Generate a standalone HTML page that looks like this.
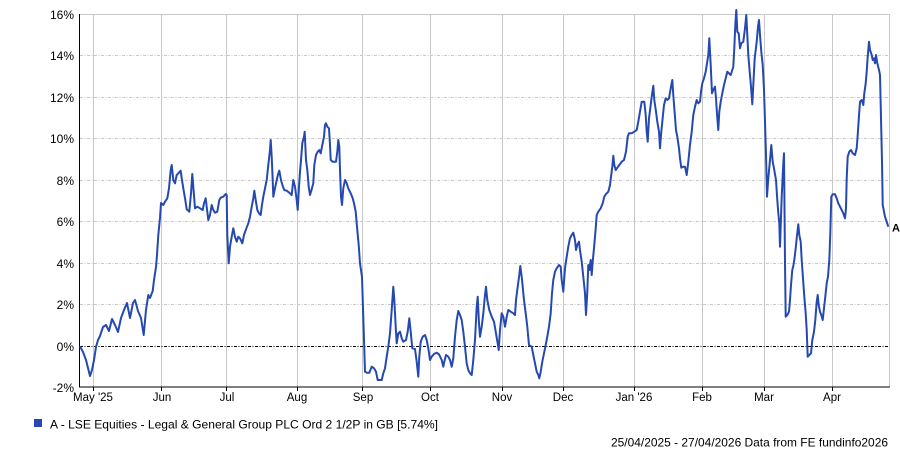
<!DOCTYPE html>
<html><head><meta charset="utf-8"><style>
html,body{margin:0;padding:0;background:#fff;}
svg{display:block;}
text{font-family:"Liberation Sans",Arial,sans-serif;fill:#000;}
</style></head><body>
<svg width="900" height="450" viewBox="0 0 900 450" xmlns="http://www.w3.org/2000/svg">
<rect width="900" height="450" fill="#fff"/>
<g stroke="#c8c8c8" stroke-width="1">
<line x1="93.5" y1="14" x2="93.5" y2="387"/>
<line x1="161.5" y1="14" x2="161.5" y2="387"/>
<line x1="226.5" y1="14" x2="226.5" y2="387"/>
<line x1="297.5" y1="14" x2="297.5" y2="387"/>
<line x1="362.5" y1="14" x2="362.5" y2="387"/>
<line x1="430.5" y1="14" x2="430.5" y2="387"/>
<line x1="502.5" y1="14" x2="502.5" y2="387"/>
<line x1="563.5" y1="14" x2="563.5" y2="387"/>
<line x1="634.5" y1="14" x2="634.5" y2="387"/>
<line x1="702.5" y1="14" x2="702.5" y2="387"/>
<line x1="764.5" y1="14" x2="764.5" y2="387"/>
<line x1="832.5" y1="14" x2="832.5" y2="387"/>
<line x1="80" y1="14.5" x2="889.5" y2="14.5"/>
<line x1="889.5" y1="14" x2="889.5" y2="387"/>
</g>
<g stroke="#c8c8c8" stroke-width="1" stroke-dasharray="3,1.5,1,1.5">
<line x1="80" y1="55.5" x2="889" y2="55.5"/>
<line x1="80" y1="97.5" x2="889" y2="97.5"/>
<line x1="80" y1="138.5" x2="889" y2="138.5"/>
<line x1="80" y1="180.5" x2="889" y2="180.5"/>
<line x1="80" y1="221.5" x2="889" y2="221.5"/>
<line x1="80" y1="263.5" x2="889" y2="263.5"/>
<line x1="80" y1="304.5" x2="889" y2="304.5"/>
</g>
<line x1="80" y1="346.5" x2="889" y2="346.5" stroke="#000" stroke-width="1" stroke-dasharray="3,1.5,1,1.5"/>
<g stroke="#000" stroke-width="1">
<line x1="79.5" y1="14" x2="79.5" y2="387.5"/>
<line x1="79" y1="387" x2="890" y2="387"/>
<line x1="93.5" y1="387" x2="93.5" y2="391"/>
<line x1="161.5" y1="387" x2="161.5" y2="391"/>
<line x1="226.5" y1="387" x2="226.5" y2="391"/>
<line x1="297.5" y1="387" x2="297.5" y2="391"/>
<line x1="362.5" y1="387" x2="362.5" y2="391"/>
<line x1="430.5" y1="387" x2="430.5" y2="391"/>
<line x1="502.5" y1="387" x2="502.5" y2="391"/>
<line x1="563.5" y1="387" x2="563.5" y2="391"/>
<line x1="634.5" y1="387" x2="634.5" y2="391"/>
<line x1="702.5" y1="387" x2="702.5" y2="391"/>
<line x1="764.5" y1="387" x2="764.5" y2="391"/>
<line x1="832.5" y1="387" x2="832.5" y2="391"/>
</g>
<g font-size="12" text-anchor="end">
<text x="74" y="19">16%</text>
<text x="74" y="60">14%</text>
<text x="74" y="102">12%</text>
<text x="74" y="143">10%</text>
<text x="74" y="185">8%</text>
<text x="74" y="226">6%</text>
<text x="74" y="268">4%</text>
<text x="74" y="309">2%</text>
<text x="74" y="351">0%</text>
<text x="74" y="392">-2%</text>
</g>
<g font-size="11.5" text-anchor="middle">
<text x="93" y="401">May '25</text>
<text x="162" y="401">Jun</text>
<text x="227" y="401">Jul</text>
<text x="297" y="401">Aug</text>
<text x="363" y="401">Sep</text>
<text x="430" y="401">Oct</text>
<text x="502" y="401">Nov</text>
<text x="563" y="401">Dec</text>
<text x="634" y="401">Jan '26</text>
<text x="702" y="401">Feb</text>
<text x="764" y="401">Mar</text>
<text x="832" y="401">Apr</text>
</g>
<polyline fill="none" stroke="#2549b1" stroke-width="2" stroke-linejoin="round" points="
80,346.3 83,352 86,360 88,368 90,376 92,370 94,360 96,347 98,340 100,336 103,327 106,325 109,331 112,319 115,325 118,332 121,318 124,310 127,303 130,318 133,303 135,300 138,311 141,318 143.7,335 146,310 148.3,295 150,298 152.7,291 154,280 156,267 157,255 158.3,235 160,218 161,203 163.3,205 165,201.7 167.3,198.3 169,188.3 170.7,170 171.7,165 173.3,180 175,183.3 176.7,175 178.3,173.3 180.7,170.7 181.7,178.3 183.3,188.3 185.3,200 186.7,209.3 189.3,211.7 191,193.3 192.3,174 193.3,186.7 195,208.3 197.3,206.7 200,208.3 202.7,210 204,203.3 205.7,198.3 206.7,206.7 208.3,220 210,215 211.7,205 213.3,210 215,212.7 217.3,211.7 219.3,200 220.7,197.7 223.3,196.7 225.7,194 226.7,195 227.3,235 228.7,263.3 230,246.7 231.7,236.7 233.3,228.3 235,236.7 236.7,241.7 238.3,236.7 240,238.3 242.3,243.3 244,235 246,229.3 248.3,223.3 250,216.7 251.7,206.7 253.3,198.3 254.3,190.7 255.7,200 257.3,210 259,213.3 260.7,215 261.7,206.7 263.3,196.7 265,188.3 266.7,180 268.3,165 270,150 270.7,140 271.7,156.7 272.7,180 273.3,196.7 275,188.3 276.7,180 278.3,173.3 279.3,170.7 281,180 282.7,186 284.3,190 286.7,190.7 289.3,192.7 291.7,195 293.3,180 295,186.7 296.7,200 297.7,210 299,186.7 300,171.7 301,160 302.3,143.3 304,136.7 304.7,131.7 306,160 307.3,170 308.7,186.7 310,195 311.7,189.3 313.3,183.3 314.3,165 316,155 317.7,151.7 319.3,150 320.7,153.3 322.3,145 324,136.7 325,125 326,123.3 327.3,126.7 329,128.3 330,145 330.7,160 332.7,161.7 336,161.7 337.3,151.7 338.3,140 339.3,146.7 340,170 341,196.7 342,205 343.3,188.3 345,180 346.7,183.3 348.3,188.3 350.7,193.3 352.7,198.3 354,203.3 355.7,211.7 357.3,230 358.7,245 360,263.3 361,270 362,277 363,308 364,340 365,371.7 366.7,372.7 369.3,372.7 371.7,366.7 374,368.3 376,371.7 377.7,380 381.7,380 383.3,373.3 385,368.3 386.7,356.7 388.3,346.7 390,333.3 391.7,310 393.3,286.7 394.3,300 395.7,326.7 396.7,343.3 398.3,333.3 400,331.7 401.7,338.3 403.3,341.7 406,340 407.7,331.7 409.3,318.3 410.7,331.7 412.3,348.3 415,349 416.7,361.7 418.3,376.7 419.3,356.7 420.7,341.7 422.7,336.7 425,335 426.7,340 428.3,348.3 430,360 431.7,356.7 434,354 436.7,352.7 439,354.3 441.7,360 443.3,366.7 444.3,361.7 446,355 448.3,356.7 450,360 451.7,366.7 453.3,358.3 455,336.7 456.7,320 458.3,311 460,315 461.7,320 463.3,331.7 465,346.7 466.7,363.3 468.3,370 470,373.3 471.7,375 473.3,360 475,340 476.7,306.7 477.7,296.7 479,323.3 480,336.7 481.7,326.7 483.3,313.3 485,295 486,286.7 487.3,300 489.3,310 491.7,316.7 494,321.7 495.7,331.7 497.7,343.3 498.7,350 500,330 501.7,313.3 503.3,316.7 505,326.7 506.7,316.7 508.3,310 510.7,311.7 513.3,313.3 515,315 516,300 517.7,286.7 519.3,275 520.3,266 521.7,276.7 522.7,286.7 524,300 525.7,313.3 527.3,326.7 529,345 531.7,346.7 533.3,355 535,363.3 536.7,371.7 538.3,375 539.3,378.3 540.7,371.7 542.3,361.7 544,353.3 545.7,345 547.3,336.7 549,326.7 550.7,313.3 552,293.3 553.3,280 555,271.7 556.7,268.3 559,265 560.7,266.7 561.7,280 563.3,291.7 565,268.3 566.7,256.7 568.3,246.7 570,238.3 571.7,235 573.3,232.7 575,240 576,250 577.3,245 579,241.7 580,250 581.7,261.7 583.3,276.7 585,293.3 586,315 587.3,291.7 588.3,265 589.3,270 590.7,260 591.7,275 592.7,261.7 594.3,245 595.7,228.3 596.7,215 598.3,211.7 600.7,208.3 602.7,203.3 604.3,196.7 606,194 608.3,191.7 610,185 611,176.7 612.3,166.7 613.3,155.7 614.3,165 615.7,170 617.3,167.7 619.3,165 621.7,161.7 624,160 626,151.7 627.7,136.7 629,133.3 631.7,133.3 634.3,131.7 636.7,130 638.3,121.7 640,111.7 641.7,101.7 644.3,101.7 645.7,115 646.7,131.7 647.7,141.7 649,118.3 650.7,105 651.7,96.7 653.3,85.7 654.3,100 656,111.7 657.3,121.7 659,131.7 660,148.3 661,135 662.3,121.7 664,105 665.7,98.3 667.3,100 669,98.3 670.7,88.3 672.3,80 673.3,95 674.7,113.3 676,130 677.3,136.7 679,148.3 680,158.3 681.3,167.7 683.3,166.7 685,166.7 686.7,175 688.3,161.7 690,145 691.7,131.7 693.3,115 695,106.7 696.7,100 698.3,103.3 700,101.7 701,91.7 702.3,83.3 704,78.3 705.7,71.7 707,63.3 708.3,55 709.3,38.3 710.7,65 712,93.3 713.3,90 715,86.7 716,98.3 717.3,118.3 718.3,130 719.3,111.7 720.7,101.7 722.3,93.3 724,85 725.7,78.3 727.3,71.7 729,73.3 730.7,75 732.3,70 733.3,66.7 734.3,48.3 735.3,25 736.3,10 737.3,31.7 738.7,33.3 740,48.3 741.3,43.3 743.3,41.7 745,28.3 746.3,15 747.3,35 748.3,55 749.7,71.7 751,86.7 752.3,104.3 753.3,85 754.7,58.3 756.7,41.7 758,26.7 759,20 760,35 761.3,51.7 762.7,65 764,90 765,121.7 766,155 767,196.7 768.3,178.3 770,160 771.3,145 772.7,161.7 774,168.3 776,180 777.3,200 778.3,213.3 779.3,223.3 780,246.7 781.7,196.7 783.3,163.3 784,153.3 785,263.3 785.7,316.7 787.3,315 789,311.7 790,300 791,285 792.3,270 793.3,266 794.3,260 795.7,248.3 796.7,238.3 797.7,229.3 798.3,224.3 799.3,235 800.7,241.7 801.7,260 803,278.3 804.3,296.7 805.7,313.3 806.7,330 807.7,356.7 809.3,355 811,353.3 812.3,340 814,331.7 815.3,320 816.7,301.7 817.7,295 818.7,305 820,311.7 821.3,315 822.7,320 824,308.3 825.3,296.7 826.7,283.3 828,276.7 829.3,260 830.3,233.3 831.3,196.7 832.7,194.3 835,194.3 836.7,198.3 838.3,203.3 840,206.7 841.7,210 843.3,213.3 845,218.3 846,208.3 846.7,178.3 847.7,156.7 849.3,151.7 851,150 852.7,153.3 855,155 856.7,148.3 857.7,135 858.7,120 860,101.7 861.7,100 863.3,105 864.3,93.3 865.7,83.3 866.7,71.7 867.7,56.7 869,41.7 870,50 871.7,55 872.7,60 874,58.3 875,63.3 876,55 877.3,63.3 879,70 880,75 881,118.3 882,161.7 882.7,205 884,211.7 885,216.7 886.7,221.7 888.3,226.7"/>
<text x="892" y="231.7" font-size="11" font-weight="bold">A</text>
<rect x="34" y="419" width="8" height="8" fill="#2549b1"/>
<text x="50" y="428.3" font-size="12" textLength="388" lengthAdjust="spacingAndGlyphs">A - LSE Equities - Legal &amp; General Group PLC Ord 2 1/2P in GB [5.74%]</text>
<text x="611" y="446.5" font-size="12" textLength="277" lengthAdjust="spacingAndGlyphs">25/04/2025 - 27/04/2026 Data from FE fundinfo2026</text>
</svg>
</body></html>
